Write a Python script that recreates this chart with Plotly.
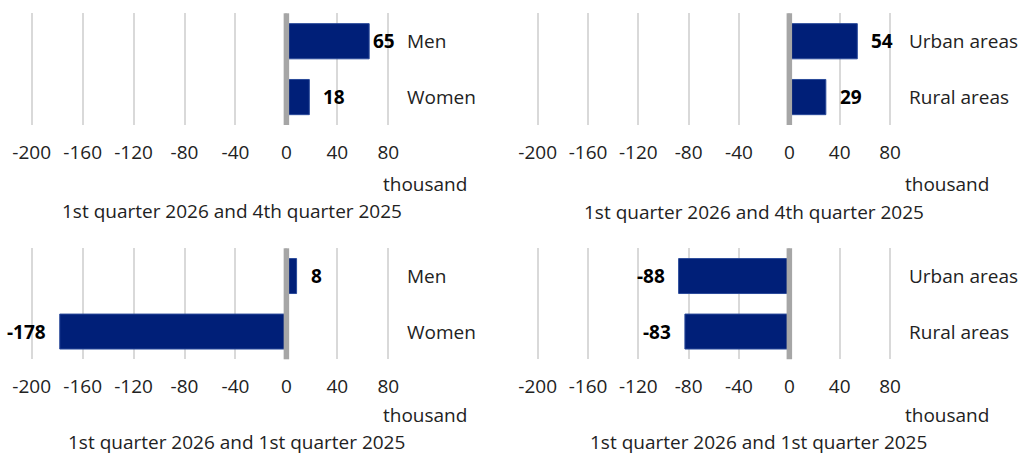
import plotly.graph_objects as go

# ---------------- data ----------------
categories_sex = ["Men", "Women"]
categories_area = ["Urban areas", "Rural areas"]
sex_vs_q4 = [65, 18]
area_vs_q4 = [54, 29]
sex_vs_q1 = [8, -178]
area_vs_q1 = [-88, -83]
panel_titles = [
    "1st quarter 2026 and 4th quarter 2025",
    "1st quarter 2026 and 4th quarter 2025",
    "1st quarter 2026 and 1st quarter 2025",
    "1st quarter 2026 and 1st quarter 2025",
]
tick_values = [-200, -160, -120, -80, -40, 0, 40, 80]
unit_label = "thousand"

# ---------------- layout helpers ----------------
W, H = 1026, 455
FONT = "Open Sans"
FS = 19
TXT = "#222222"
BAR = "#001f78"


def fx(p):
    return p / W


def fy(p):
    return 1 - p / H


panels = [
    dict(cats=categories_sex, vals=sex_vs_q4, title=panel_titles[0],
         xpx=(19.0, 401.0), ypx=(13.3, 125.0), unit=(425, 184), sub=(232, 211)),
    dict(cats=categories_area, vals=area_vs_q4, title=panel_titles[1],
         xpx=(525.1, 902.6), ypx=(13.3, 125.0), unit=(947, 184), sub=(754, 212)),
    dict(cats=categories_sex, vals=sex_vs_q1, title=panel_titles[2],
         xpx=(19.0, 401.0), ypx=(248.3, 359.3), unit=(425, 415), sub=(236, 442)),
    dict(cats=categories_area, vals=area_vs_q1, title=panel_titles[3],
         xpx=(525.1, 902.6), ypx=(248.3, 359.3), unit=(947, 415), sub=(758, 442)),
]

fig = go.Figure()
annotations = []
shapes = []

for i, p in enumerate(panels, start=1):
    xa = "x" if i == 1 else f"x{i}"
    ya = "y" if i == 1 else f"y{i}"
    fig.add_trace(go.Bar(
        x=p["vals"], y=p["cats"], orientation="h",
        xaxis=xa, yaxis=ya, width=0.63,
        marker=dict(color=BAR, line=dict(color="#2a4a9a", width=1)),
        hoverinfo="x+y", showlegend=False,
    ))
    fig.update_layout(**{
        ("xaxis" if i == 1 else f"xaxis{i}"): dict(
            domain=[fx(p["xpx"][0]), fx(p["xpx"][1])],
            anchor=ya, range=[-210, 90],
            tickmode="array", tickvals=tick_values,
            ticktext=[str(v) for v in tick_values],
            showgrid=True, gridcolor="#d9d9d9", gridwidth=2,
            zeroline=False, showline=False, ticks="",
            ticklabelstandoff=14,
            tickfont=dict(family=FONT, size=FS, color=TXT),
            automargin=False, fixedrange=True,
        ),
        ("yaxis" if i == 1 else f"yaxis{i}"): dict(
            domain=[fy(p["ypx"][1]), fy(p["ypx"][0])],
            anchor=xa, type="category",
            categoryorder="array", categoryarray=p["cats"],
            range=[1.5, -0.5],
            showgrid=False, zeroline=False, showline=False,
            showticklabels=False, ticks="", automargin=False, fixedrange=True,
        ),
    })
    # zero line
    shapes.append(dict(type="line", xref=xa, yref=f"{ya} domain",
                       x0=0, x1=0, y0=0, y1=1,
                       line=dict(color="#a6a6a6", width=5.5), layer="above"))
    # category labels at the right
    for c in p["cats"]:
        annotations.append(dict(xref=f"{xa} domain", yref=ya, x=1, y=c,
                                xanchor="left", yanchor="middle", xshift=4,
                                text=c, showarrow=False,
                                font=dict(family=FONT, size=FS, color=TXT)))
    # value labels
    for c, v in zip(p["cats"], p["vals"]):
        gap = 2 if v > 60 else 12
        annotations.append(dict(xref=xa, yref=ya, x=v, y=c,
                                xanchor="left" if v >= 0 else "right",
                                xshift=gap if v >= 0 else -gap,
                                yanchor="middle", text=f"<b>{v}</b>",
                                showarrow=False,
                                font=dict(family=FONT, size=FS, color="#000000")))
    # unit label
    annotations.append(dict(xref="paper", yref="paper",
                            x=fx(p["unit"][0]), y=fy(p["unit"][1]),
                            xanchor="center", yanchor="middle",
                            text=unit_label, showarrow=False,
                            font=dict(family=FONT, size=FS, color=TXT)))
    # panel subtitle
    annotations.append(dict(xref="paper", yref="paper",
                            x=fx(p["sub"][0]), y=fy(p["sub"][1]),
                            xanchor="center", yanchor="middle",
                            text=p["title"], showarrow=False, borderpad=0,
                            font=dict(family=FONT, size=FS, color=TXT)))

fig.update_layout(
    width=W, height=H,
    margin=dict(l=0, r=0, t=0, b=0, autoexpand=False),
    paper_bgcolor="white", plot_bgcolor="white",
    annotations=annotations, shapes=shapes,
    font=dict(family=FONT, size=FS, color=TXT),
)

fig.write_html(
    "out.html",
    config={"displayModeBar": False},
    post_script="document.body.style.margin='0';document.body.style.padding='0';",
)
